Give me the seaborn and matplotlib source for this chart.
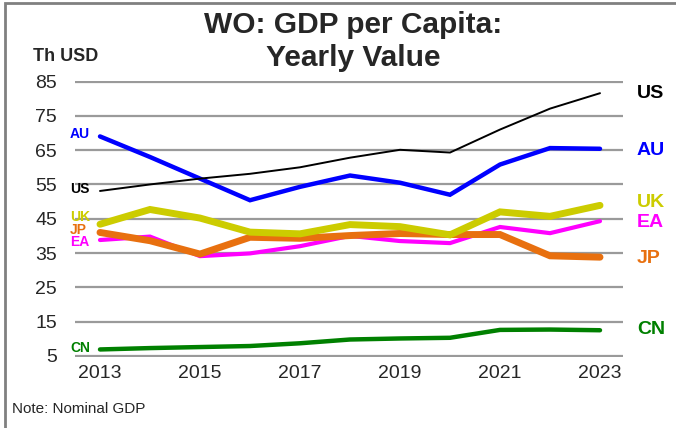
import matplotlib
matplotlib.use("Agg")
import matplotlib.pyplot as plt
import seaborn as sns
import pandas as pd
from matplotlib.patches import Rectangle
from matplotlib import font_manager

years = list(range(2013, 2024))
us = [53.1, 55.0, 56.7, 58.1, 60.0, 62.8, 65.1, 64.3, 71.0, 77.1, 81.6]
au = [69.0, 63.0, 56.7, 50.4, 54.3, 57.6, 55.5, 52.0, 60.8, 65.6, 65.4]
uk = [43.4, 47.7, 45.2, 41.1, 40.6, 43.3, 42.7, 40.3, 47.0, 45.7, 48.9]
ea = [38.8, 39.8, 34.1, 34.9, 37.0, 40.0, 38.5, 37.9, 42.6, 40.8, 44.3]
jp = [41.0, 38.6, 34.7, 39.6, 39.3, 40.1, 40.7, 40.4, 40.4, 34.2, 33.8]
cn = [6.9, 7.3, 7.6, 7.9, 8.7, 9.8, 10.1, 10.3, 12.6, 12.7, 12.5]

series_names = ["EA", "JP", "UK", "AU", "US", "CN"]
series_vals = {"US": us, "AU": au, "UK": uk, "EA": ea, "JP": jp, "CN": cn}
colors = {"US": "#000000", "AU": "#0000FF", "UK": "#CCCC00",
          "EA": "#FF00FF", "JP": "#E8700F", "CN": "#008000"}
widths = {"US": 1.4, "AU": 3.2, "UK": 5.0, "EA": 3.0, "JP": 5.0, "CN": 3.2}

yticks = [5, 15, 25, 35, 45, 55, 65, 75, 85]
xticks = [2013, 2015, 2017, 2019, 2021, 2023]

sns.set_theme(style="white")
plt.rcParams['font.family'] = ['Liberation Sans', 'DejaVu Sans']

installed = {f.name for f in font_manager.fontManager.ttflist}
if 'Liberation Sans Narrow' in installed:
    title_family = ['Liberation Sans Narrow', 'Liberation Sans']
    title_size = 24
    th_size = 14
else:
    title_family = ['Liberation Sans', 'DejaVu Sans']
    title_size = 21.5
    th_size = 13

fig = plt.figure(figsize=(6.76, 4.28), dpi=100)
ax = fig.add_axes([75/676, 1-357/428, (623-75)/676, (357-80.5)/428])

for name in series_names:
    df = pd.DataFrame({"year": years, "value": series_vals[name]})
    sns.lineplot(data=df, x="year", y="value", ax=ax, color=colors[name],
                 linewidth=widths[name], solid_capstyle="round",
                 solid_joinstyle="miter", zorder=3)

ax.set_xlim(2012.5, 2023.46)
ax.set_ylim(4.7, 85.3)
ax.set_yticks(yticks)
ax.set_xticks(xticks)
ax.set_yticklabels([str(v) for v in yticks], fontsize=14)
ax.set_xticklabels([str(v) for v in xticks], fontsize=14)
ax.tick_params(axis='both', length=0, pad=6)
ax.tick_params(axis='y', pad=13)
ax.set_xlabel("")
ax.set_ylabel("")
ax.grid(axis='y', color='#9a9a9a', linewidth=1.6, zorder=0)
ax.grid(axis='x', visible=False)
for s in ax.spines.values():
    s.set_visible(False)

# right labels
right_labels = {"US": 81.6, "AU": 64.9, "UK": 49.8, "EA": 44.0, "JP": 33.5, "CN": 12.8}
for name, yv in right_labels.items():
    ax.text(2023.74, yv, name, color=colors[name], fontsize=14, fontweight='bold',
            ha='left', va='center', clip_on=False)

# left labels
left_labels = {"AU": 69.6, "US": 53.6, "UK": 45.4, "JP": 41.6, "EA": 38.2, "CN": 7.3}
for name, yv in left_labels.items():
    ax.text(2012.4, yv, name, color=colors[name], fontsize=10, fontweight='bold',
            ha='left', va='center', clip_on=False, zorder=2)

fig.text(353/676, 1-25/428, "WO: GDP per Capita:", ha='center', va='center',
         fontsize=title_size, fontweight='bold', family=title_family)
fig.text(353/676, 1-58/428, "Yearly Value", ha='center', va='center',
         fontsize=title_size, fontweight='bold', family=title_family)
fig.text(33/676, 1-57/428, "Th USD", ha='left', va='center',
         fontsize=th_size, fontweight='bold', family=title_family)
fig.text(12/676, 1-409/428, "Note: Nominal GDP", ha='left', va='center', fontsize=11)

fig.patches.append(Rectangle((5/676, -0.05), 1.2, 1-3/428+0.05,
                             transform=fig.transFigure, fill=False,
                             edgecolor='#808080', linewidth=2))

fig.savefig("out.png", dpi=100)
